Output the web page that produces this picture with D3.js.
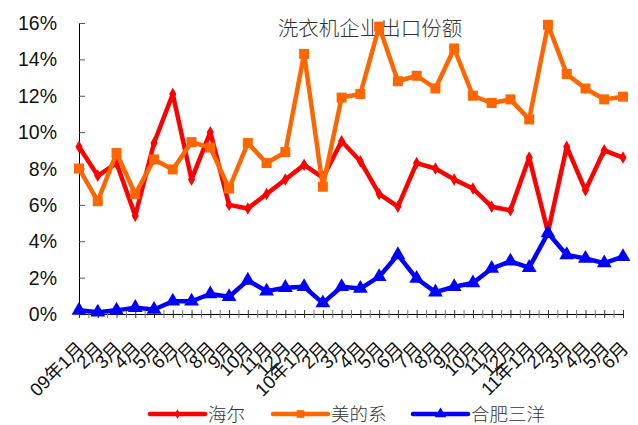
<!DOCTYPE html>
<html lang="zh">
<head>
<meta charset="UTF-8">
<title>洗衣机企业出口份额</title>
<script src="https://cdn.jsdelivr.net/npm/d3@7"></script>
<style>
  body { margin: 0; background: #fff; }
  text { font-family: "Liberation Sans", "Noto Sans CJK SC", sans-serif; }
  .cjk { font-family: "Noto Sans CJK SC", sans-serif; }
</style>
</head>
<body>
<div id="chart"></div>
<script>
// categories (month labels)
const months = ["09年1月","2月","3月","4月","5月","6月","7月","8月","9月","10月","11月","12月",
                "10年1月","2月","3月","4月","5月","6月","7月","8月","9月","10月","11月","12月",
                "11年1月","2月","3月","4月","5月","6月"];
// series values (%)
const haier  = [9.2,7.6,8.3,5.4,9.4,12.1,7.4,10.0,6.0,5.8,6.6,7.4,8.2,7.5,9.5,8.4,6.6,5.9,8.3,8.0,7.4,6.9,5.9,5.7,8.6,4.5,9.2,6.8,9.0,8.6];
const midea  = [8.0,6.2,8.85,6.6,8.5,7.95,9.45,9.15,6.9,9.4,8.3,8.9,14.3,7.0,11.9,12.1,15.8,12.8,13.1,12.4,14.6,12.0,11.6,11.8,10.7,15.9,13.2,12.4,11.8,11.95];
const sanyo  = [0.2,0.1,0.2,0.35,0.25,0.7,0.7,1.1,0.95,1.85,1.25,1.45,1.5,0.6,1.5,1.4,2.05,3.25,1.95,1.2,1.5,1.7,2.5,2.9,2.55,4.45,3.25,3.05,2.8,3.15];
const seriesNames = ["海尔","美的系","合肥三洋"];
const yTicks = [0,2,4,6,8,10,12,14,16];

const W = 638, H = 425;
const svg = d3.select("#chart").append("svg").attr("width", W).attr("height", H);

const x = d3.scalePoint().domain(d3.range(months.length)).range([79, 623]);
const y = d3.scaleLinear().domain([0, 16]).range([314, 23]);

// title
svg.append("text").attr("class", "cjk")
   .attr("x", 370).attr("y", 36)
   .attr("text-anchor", "middle")
   .attr("font-size", 20.5).attr("font-weight", 300).attr("fill", "#333")
   .text("洗衣机企业出口份额");

// y axis
const yAxis = svg.append("g").attr("transform", "translate(79,0)")
  .call(d3.axisRight(y).tickValues(yTicks).tickSize(6).tickFormat(""));
yAxis.select(".domain").attr("stroke", "#000").attr("d", "M0.5," + y(16) + "V" + y(0));
yAxis.selectAll(".tick line").attr("stroke", "#555");

svg.selectAll(".ylab").data(yTicks).enter().append("text")
   .attr("class", "ylab")
   .attr("x", 57).attr("y", d => y(d)).attr("dy", "0.36em")
   .attr("text-anchor", "end").attr("font-size", 19.5).attr("fill", "#111")
   .text(d => d + "%");

// x axis: ticks on categories and half way between
const halfTicks = d3.range(0, months.length - 0.5, 0.5);
const xs = d3.scaleLinear().domain([0, months.length - 1]).range(x.range());
svg.append("g").attr("transform", "translate(0,314)")
  .call(d3.axisBottom(xs).tickValues(halfTicks).tickSize(4).tickSizeOuter(0).tickFormat(""))
  .call(g => g.select(".domain").attr("stroke", "#000"))
  .call(g => g.selectAll(".tick line").attr("y1", -4).attr("stroke", (d) => d % 1 === 0 ? "#333" : "#777"));

svg.selectAll(".xlab").data(months).enter().append("text")
   .attr("class", "xlab")
   .attr("transform", (d, i) => `translate(${x(i) + 2},345) rotate(-45)`)
   .attr("dy", "0.35em")
   .attr("text-anchor", "end").attr("font-size", 18.5).attr("fill", "#111")
   .text(d => d);

// lines
const series = [
  { name: seriesNames[0], values: haier, color: "#ff0000", marker: d3.symbolDiamond, size: 45 },
  { name: seriesNames[1], values: midea, color: "#ff6600", marker: d3.symbolSquare, size: 100 },
  { name: seriesNames[2], values: sanyo, color: "#0000ff", marker: d3.symbolTriangle, size: 95 }
];

const line = d3.line().x((d, i) => x(i)).y(d => y(d));

series.forEach(s => {
  svg.append("path").datum(s.values)
     .attr("fill", "none").attr("stroke", s.color)
     .attr("stroke-width", 4.5).attr("stroke-linejoin", "round")
     .attr("d", line);
  svg.selectAll(null).data(s.values).enter().append("path")
     .attr("transform", (d, i) => `translate(${x(i)},${y(d)})`)
     .attr("d", d3.symbol().type(s.marker).size(s.size))
     .attr("fill", s.color);
});

// legend
const legX = [150, 273, 413];
series.forEach((s, i) => {
  const g = svg.append("g").attr("transform", `translate(${legX[i]},414)`);
  g.append("line").attr("x1", 0).attr("x2", 55).attr("stroke", s.color)
   .attr("stroke-width", 4.5).attr("stroke-linecap", "round");
  g.append("path").attr("transform", "translate(27.5,0)")
   .attr("d", d3.symbol().type(s.marker).size(s.size * 0.6)).attr("fill", s.color);
  g.append("text").attr("class", "cjk").attr("x", 58).attr("dy", "0.36em")
   .attr("font-size", 18.5).attr("font-weight", 300).attr("fill", "#333").text(s.name);
});
</script>
</body>
</html>
